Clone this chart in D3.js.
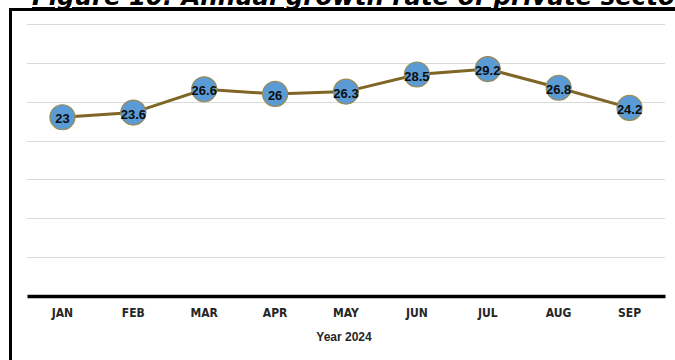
<!DOCTYPE html>
<html><head><meta charset="utf-8">
<script src="https://cdn.jsdelivr.net/npm/d3@7"></script>
<style>html,body{margin:0;padding:0;background:#fff;overflow:hidden}</style>
</head><body>
<svg id="chart" width="675" height="360"></svg>
<script>
const months = ["JAN","FEB","MAR","APR","MAY","JUN","JUL","AUG","SEP"];
const growth = [23, 23.6, 26.6, 26, 26.3, 28.5, 29.2, 26.8, 24.2];
const yTicks = [0, 5, 10, 15, 20, 25, 30, 35];
const titleText = "Figure 10: Annual growth rate of private sector credit";
const xTitle = "Year 2024";

const svg = d3.select("#chart");
const mLeft = 27, mRight = 665, mTop = 24, mBottom = 296;

const x = d3.scaleBand().domain(months).range([mLeft, mRight]);
const y = d3.scaleLinear().domain([0, 35]).range([mBottom, mTop]);

// frame
svg.append("rect").attr("x", 10.5).attr("y", 9.5).attr("width", 700).attr("height", 400)
  .attr("fill", "#fff").attr("stroke", "#000").attr("stroke-width", 3);

// title (clipped at top/right like the reference)
const title = svg.append("text").attr("x", 32).attr("y", 5)
  .attr("font-family", "DejaVu Sans").attr("font-weight", "bold").attr("font-style", "italic")
  .attr("font-size", 20).attr("fill", "#000").attr("text-decoration", "underline")
  .text("Figure 10: Annual growth rate of private secto");
const w = title.node().getComputedTextLength();
title.attr("font-size", 20 * 643 / w).text(titleText);

// gridlines
svg.append("g").selectAll("line").data(yTicks.filter(d => d > 0)).join("line")
  .attr("x1", mLeft).attr("x2", mRight)
  .attr("y1", d => Math.round(y(d)) + 0.5).attr("y2", d => Math.round(y(d)) + 0.5)
  .attr("stroke", "#d9d9d9").attr("stroke-width", 1);

// x axis
const xAxis = svg.append("g").attr("transform", `translate(0,${mBottom})`)
  .call(d3.axisBottom(x).tickSize(0).tickPadding(12));
xAxis.select(".domain").attr("stroke", "#000").attr("stroke-width", 3.5);
xAxis.selectAll("text").attr("font-family", "Liberation Sans Narrow, DejaVu Sans Condensed, sans-serif")
  .attr("font-weight", "bold").attr("font-size", 12).attr("fill", "#262626");

svg.append("text").attr("x", 344).attr("y", 341).attr("text-anchor", "middle")
  .attr("font-family", "Liberation Sans, sans-serif").attr("font-weight", "bold")
  .attr("font-size", 12).attr("fill", "#262626").text(xTitle);

// line
const cx = (d, i) => x(months[i]) + x.bandwidth() / 2;
svg.append("path").datum(growth)
  .attr("d", d3.line().x(cx).y(d => y(d)))
  .attr("fill", "none").attr("stroke", "#7f6526").attr("stroke-width", 3);

svg.append("g").selectAll("circle").data(growth).join("circle")
  .attr("cx", cx).attr("cy", d => y(d)).attr("r", 12.5)
  .attr("fill", "#5b9bd5").attr("stroke", "#9c8a4e").attr("stroke-width", 1.2);

svg.append("g").selectAll("text").data(growth).join("text")
  .attr("x", cx).attr("y", d => y(d) + 6).attr("text-anchor", "middle")
  .attr("font-family", "Liberation Sans, sans-serif").attr("font-weight", "bold")
  .attr("font-size", 13).attr("fill", "#0d0d0d").text(d => d);
</script>
</body></html>
